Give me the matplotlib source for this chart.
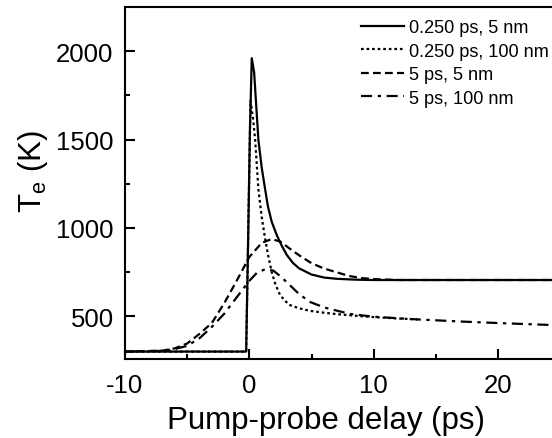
import matplotlib
matplotlib.use("Agg")
import matplotlib.pyplot as plt

plt.rcParams['font.family'] = ['Liberation Sans', 'DejaVu Sans']
plt.rcParams['mathtext.default'] = 'regular'
plt.rcParams['axes.unicode_minus'] = False

# -----------------------------
# Data
# -----------------------------
labels = ["0.250 ps, 5 nm", "0.250 ps, 100 nm", "5 ps, 5 nm", "5 ps, 100 nm"]

t_short_5 = [-10, -0.25, -0.1, 0.05, 0.2, 0.39, 0.55, 0.73, 1.0, 1.27, 1.5, 1.8, 2.2,
             2.6, 3.0, 3.5, 4.0, 5.0, 6.0, 7.0, 8.5, 10.0, 24.4]
T_short_5 = [300, 300, 900, 1550, 1960, 1880, 1700, 1500, 1340, 1220, 1120, 1035, 960,
             900, 848, 802, 771, 736, 719, 712, 707, 705, 705]

t_short_100 = [-10, -0.25, -0.1, 0.1, 0.3, 0.47, 0.73, 1.0, 1.27, 1.5, 1.8, 2.1, 2.47,
               2.9, 3.3, 4.0, 4.9, 6.0, 7.0, 8.5, 10.0, 12.0, 13.5]
T_short_100 = [300, 300, 900, 1720, 1620, 1500, 1220, 1060, 940, 850, 750, 680, 620,
               585, 562, 545, 530, 520, 512, 503, 495, 487, 482]

t_long_5 = [-10, -7, -6, -5, -4, -3, -2, -1, 0, 1, 1.8, 2.5, 3.3, 4, 5, 6, 7, 8, 9,
            10, 12, 24.4]
T_long_5 = [300, 305, 318, 345, 400, 462, 575, 702, 835, 915, 937, 922, 880, 845, 800,
            770, 749, 728, 716, 710, 705, 705]

t_long_100 = [-10, -7, -6, -5, -4, -3, -2, -1, 0, 0.6, 1.3, 1.94, 2.6, 3.3, 4, 4.9, 6,
              7, 8.1, 10, 13.5, 17, 20.5, 24.4]
T_long_100 = [300, 304, 314, 332, 375, 440, 515, 608, 700, 745, 767, 758, 720, 673, 625,
              580, 550, 532, 513, 497, 482, 470, 460, 450]

# -----------------------------
# Figure
# -----------------------------
fig = plt.figure(figsize=(5.52, 4.39), dpi=100)
ax = fig.add_axes([124.7 / 552, 1 - 360 / 439, 1 - 124.7 / 552, 352 / 439])

lw = 1.6
ax.plot(t_short_5, T_short_5, color='black', lw=lw, ls='-', label=labels[0])
ax.plot(t_short_100, T_short_100, color='black', lw=lw, ls=(0, (1.2, 1.3)), label=labels[1])
ax.plot(t_long_5, T_long_5, color='black', lw=lw, ls=(0, (3.5, 1.9)), label=labels[2])
ax.plot(t_long_100, T_long_100, color='black', lw=lw, ls=(0, (5, 2.5, 1.5, 2.5)), label=labels[3])

ax.set_xlim(-10, 24.3)
ax.set_ylim(258, 2250)
ax.set_xticks([-10, 0, 10, 20])
ax.set_xticks([-5, 5, 15], minor=True)
ax.set_yticks([500, 1000, 1500, 2000])
ax.set_yticks([750, 1250, 1750], minor=True)

ax.tick_params(which='both', direction='in', width=1.5, labelsize=18.5)
ax.tick_params(axis='x', pad=10)
ax.tick_params(axis='y', pad=8)
ax.tick_params(which='major', length=7)
ax.tick_params(which='minor', length=3.5)
for side in ['left', 'bottom', 'top']:
    ax.spines[side].set_linewidth(1.5)
ax.spines['right'].set_visible(False)

ax.set_xlabel("Pump-probe delay (ps)", fontsize=22.5, va='center')
ax.xaxis.set_label_coords((326 - 124.7) / 427.3, (360 - 421) / 352)
ax.set_ylabel("T$_e$ (K)", fontsize=22.5, va='center')
ax.yaxis.set_label_coords((33 - 124.7) / 427.3, (360 - 172) / 352)

fig.legend(loc='upper left', bbox_to_anchor=(361 / 552, 1 - 20 / 439),
           bbox_transform=fig.transFigure, frameon=False, fontsize=13.1,
           handlelength=2.35, handletextpad=0.3, labelspacing=0.36,
           borderpad=0, borderaxespad=0)

fig.savefig("out.png", dpi=100)
